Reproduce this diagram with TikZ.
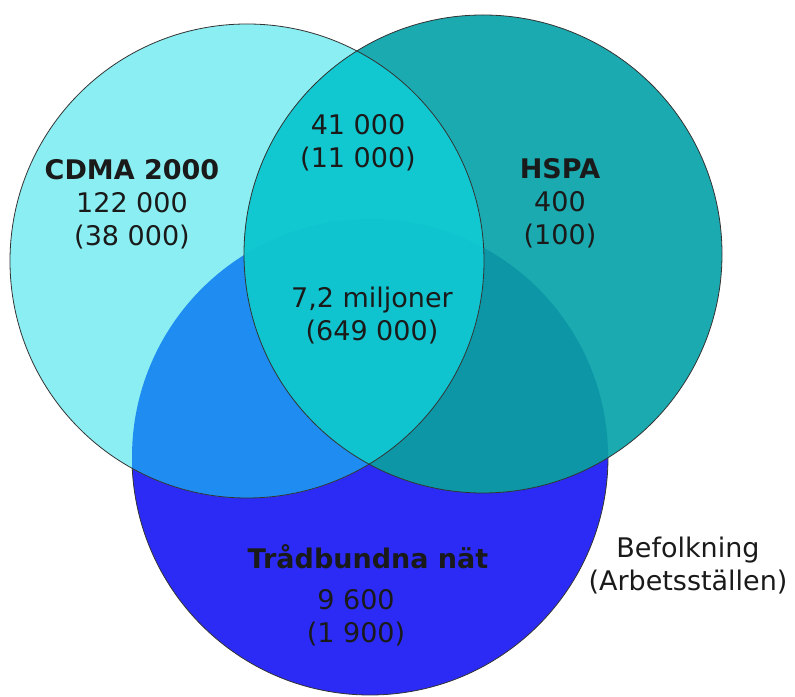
\documentclass[tikz,border=0pt]{standalone}
\usepackage{fontspec}
\setmainfont{DejaVu Sans}
\definecolor{cdma}{HTML}{8AEEF2}
\definecolor{hspa}{HTML}{1AAAB0}
\definecolor{wired}{HTML}{2B2BF5}
\definecolor{cdmawired}{HTML}{1E8CF0}
\definecolor{hspawired}{HTML}{0C96A6}
\definecolor{cdmahspa}{HTML}{12C8D0}
\definecolor{allthree}{HTML}{10C4CF}
\definecolor{txt}{HTML}{1A1A1A}
\tikzset{
  lbl/.style={align=center, text=txt, font=\fontsize{27}{33}\selectfont},
  rim/.style={draw=black!80, line width=0.8pt}
}
\begin{document}
\begin{tikzpicture}[x=1pt,y=1pt]
        \useasboundingbox (0,0) rectangle (795,696);
        \fill[wired] (370,239) circle (238);
        \draw[rim] (370,239) circle (238);
        \fill[cdma] (247,435) circle (237);
        \fill[hspa] (483,442) circle (239);
        \begin{scope}
            \clip (247,435) circle (237);
            \fill[cdmawired] (370,239) circle (238);
        \end{scope}
        \begin{scope}
            \clip (483,442) circle (239);
            \fill[hspawired] (370,239) circle (238);
        \end{scope}
        \begin{scope}
            \clip (247,435) circle (237);
            \fill[cdmahspa] (483,442) circle (239);
            \clip (483,442) circle (239);
            \fill[allthree] (370,239) circle (238);
        \end{scope}
        \draw[rim] (247,435) circle (237);
        \draw[rim] (483,442) circle (239);
        \node[lbl] (cdma) at (132,492) {\textbf{CDMA 2000}\\122 000\\(38 000)};
        \node[lbl] (cdmahspa) at (358,553) {41 000\\(11 000)};
        \node[lbl] (hspa) at (560,493) {\textbf{HSPA}\\400\\(100)};
        \node[lbl] (all) at (372,380) {7,2 miljoner\\(649 000)};
        \node[lbl] (wired) at (368,139) {\textbf{Trådbundna nät}};
        \node[lbl] (wirednum) at (356,78) {9 600\\(1 900)};
        \node[lbl] (legend) at (688,130) {Befolkning\\(Arbetsställen)};
\end{tikzpicture}
\end{document}
